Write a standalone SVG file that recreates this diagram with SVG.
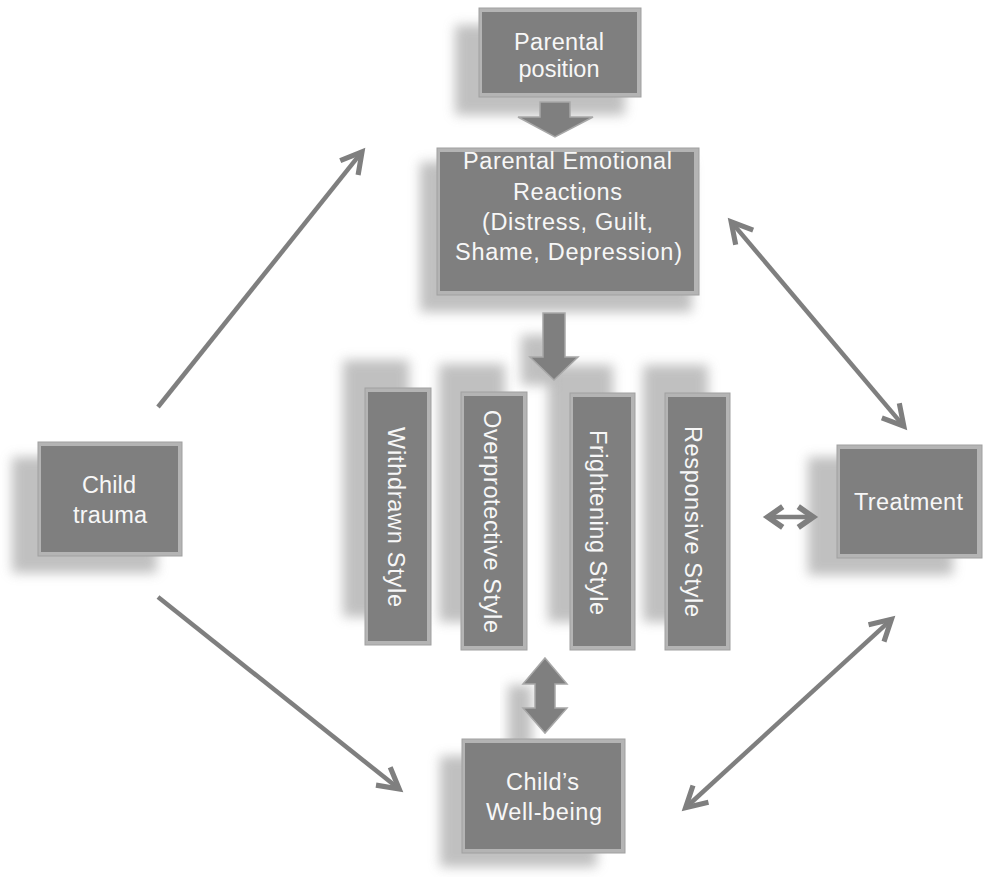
<svg xmlns="http://www.w3.org/2000/svg" width="984" height="877" viewBox="0 0 984 877">
<style>
.bev{fill:#b4b4b4;stroke:#a0a0a0;stroke-width:1}
.face{fill:#7f7f7f}
.sh{fill:#a6a6a6;opacity:0.7;filter:url(#blur)}
.t{font-family:"Liberation Sans",Arial,sans-serif;font-size:23.5px;fill:#f7f7f7;text-anchor:middle}
.ln{stroke:#7f7f7f;stroke-width:4.5;fill:none}
.blk{fill:#7f7f7f;stroke:#a8a8a8;stroke-width:1.5}
</style>
<defs>
<filter id="blur" x="-30%" y="-30%" width="160%" height="160%"><feGaussianBlur stdDeviation="6"/></filter>
<marker id="ah" markerUnits="userSpaceOnUse" markerWidth="40" markerHeight="40" viewBox="-25 -15 35 30" refX="-1" refY="0" orient="auto-start-reverse">
<path d="M-18,-10 L0,0 L-18,10" fill="none" stroke="#7f7f7f" stroke-width="4.5"/>
</marker>
<marker id="ahs" markerUnits="userSpaceOnUse" markerWidth="40" markerHeight="40" viewBox="-25 -15 35 30" refX="-1" refY="0" orient="auto-start-reverse">
<path d="M-13,-9 L0,0 L-13,9" fill="none" stroke="#7f7f7f" stroke-width="5"/>
</marker>
</defs>
<rect width="984" height="877" fill="#ffffff"/>

<g id="shadows">
<rect class="sh" x="455" y="25" width="170" height="90"/>
<rect class="sh" x="420" y="162" width="272" height="150"/>
<rect class="sh" x="12" y="457" width="145" height="116"/>
<rect class="sh" x="808" y="457" width="145" height="118"/>
<rect class="sh" x="440" y="756" width="157" height="111"/>
<rect class="sh" x="343" y="360" width="66" height="257"/>
<rect class="sh" x="439" y="364" width="66" height="258"/>
<rect class="sh" x="548" y="365" width="65" height="257"/>
<rect class="sh" x="643" y="365" width="65" height="257"/>
<rect class="sh" x="521" y="335" width="32" height="50"/>
<rect class="sh" x="508" y="685" width="24" height="65"/>
</g>

<g id="connectors">
<line class="ln" x1="158" y1="407" x2="361.3" y2="152.7" marker-end="url(#ah)"/>
<line class="ln" x1="158" y1="597" x2="398.3" y2="788.3" marker-end="url(#ah)"/>
<line class="ln" x1="731.9" y1="222.6" x2="903.1" y2="425.4" marker-start="url(#ah)" marker-end="url(#ah)"/>
<line class="ln" x1="686.4" y1="807" x2="890.6" y2="620.1" marker-start="url(#ah)" marker-end="url(#ah)"/>
<line class="ln" x1="769" y1="517" x2="812" y2="517" stroke-width="5" marker-start="url(#ahs)" marker-end="url(#ahs)"/>
<polygon class="blk" points="540,102 570,102 570,117 593,117 555,137 518,117 540,117"/>
<polygon class="blk" points="543,313 565,313 565,357 578,357 554,380 530,357 543,357"/>
<polygon class="blk" points="545,658 567,684 555,684 555,708 567,708 545,733 523,708 535,708 535,684 523,684"/>
</g>

<g id="parental-position">
<rect class="bev" x="479" y="8" width="162" height="89"/>
<rect class="face" x="482" y="12" width="155" height="81"/>
<text class="t" x="559" y="50" textLength="90" lengthAdjust="spacing">Parental</text>
<text class="t" x="559" y="77" textLength="81" lengthAdjust="spacing">position</text>
</g>

<g id="parental-emotional-reactions">
<rect class="bev" x="437" y="148" width="262" height="147"/>
<rect class="face" x="440" y="152" width="254" height="139"/>
<text class="t" x="567.5" y="169" textLength="209" lengthAdjust="spacing">Parental Emotional</text>
<text class="t" x="567.5" y="200" textLength="109" lengthAdjust="spacing">Reactions</text>
<text class="t" x="567.5" y="230" textLength="171" lengthAdjust="spacing">(Distress, Guilt,</text>
<text class="t" x="568.5" y="260" textLength="227" lengthAdjust="spacing">Shame, Depression)</text>
</g>

<g id="child-trauma">
<rect class="bev" x="38" y="442" width="144" height="114"/>
<rect class="face" x="41" y="446" width="137" height="106"/>
<text class="t" x="109" y="493" textLength="54" lengthAdjust="spacing">Child</text>
<text class="t" x="110" y="523" textLength="74" lengthAdjust="spacing">trauma</text>
</g>

<g id="treatment">
<rect class="bev" x="837" y="445" width="145" height="113"/>
<rect class="face" x="840" y="449" width="137" height="105"/>
<text class="t" x="908.5" y="510" textLength="109" lengthAdjust="spacing">Treatment</text>
</g>

<g id="childs-well-being">
<rect class="bev" x="462" y="739" width="163" height="114"/>
<rect class="face" x="465" y="743" width="156" height="106"/>
<text class="t" x="542.5" y="790" textLength="73" lengthAdjust="spacing">Child’s</text>
<text class="t" x="544" y="820" textLength="116" lengthAdjust="spacing">Well-being</text>
</g>

<g id="withdrawn-style">
<rect class="bev" x="365" y="388" width="66" height="257"/>
<rect class="face" x="368" y="392" width="59" height="249"/>
<text class="t" transform="translate(388,517) rotate(90)" textLength="180" lengthAdjust="spacing">Withdrawn  Style</text>
</g>

<g id="overprotective-style">
<rect class="bev" x="461" y="392" width="66" height="258"/>
<rect class="face" x="464" y="396" width="59" height="250"/>
<text class="t" transform="translate(484,521.5) rotate(90)" textLength="223" lengthAdjust="spacing">Overprotective  Style</text>
</g>

<g id="frightening-style">
<rect class="bev" x="570" y="393" width="65" height="257"/>
<rect class="face" x="573" y="397" width="58" height="249"/>
<text class="t" transform="translate(590,522.5) rotate(90)" textLength="185" lengthAdjust="spacing">Frightening  Style</text>
</g>

<g id="responsive-style">
<rect class="bev" x="665" y="393" width="65" height="257"/>
<rect class="face" x="668" y="397" width="58" height="249"/>
<text class="t" transform="translate(685,521.5) rotate(90)" textLength="191" lengthAdjust="spacing">Responsive  Style</text>
</g>
</svg>
